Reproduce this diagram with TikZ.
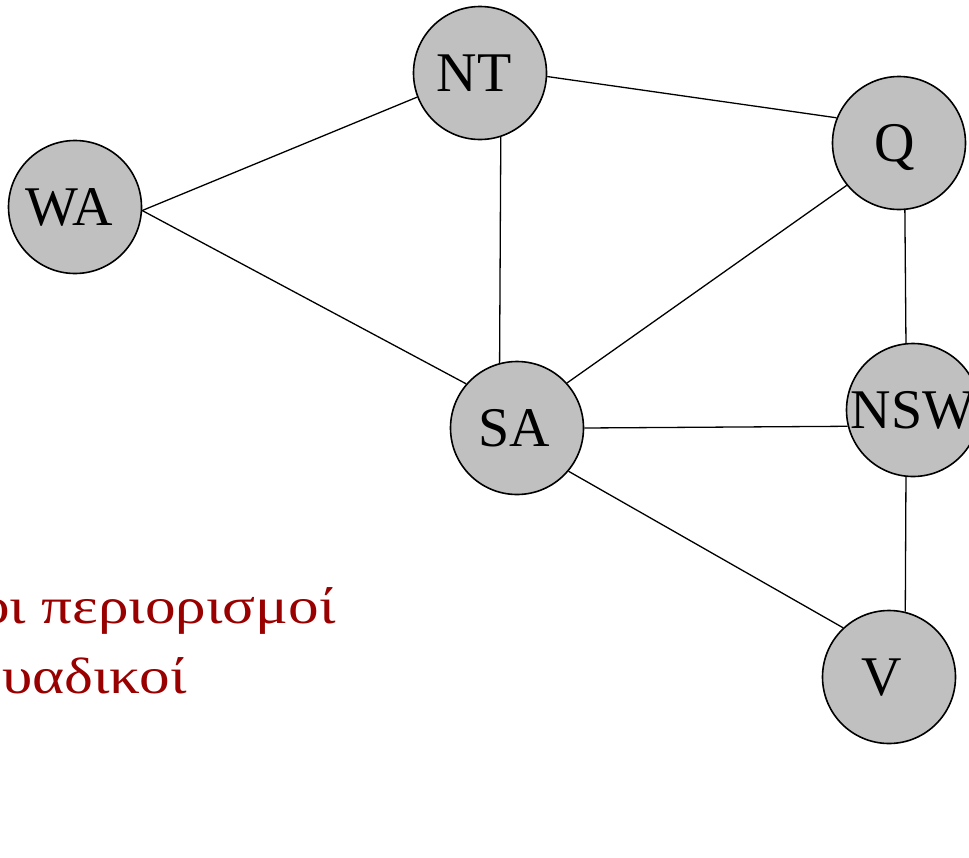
\documentclass[tikz,border=0pt]{standalone}
\usepackage{fontspec}
\setmainfont{Liberation Serif}
\newfontfamily\greekfont[FakeStretch=1.2]{Liberation Serif}
\usetikzlibrary{backgrounds}
\definecolor{nodegray}{RGB}{192,192,192}
\definecolor{darkred}{RGB}{153,0,0}
\begin{document}
\begin{tikzpicture}[x=1pt,y=-1pt,
  region/.style={circle,draw=black,line width=1.6pt,fill=nodegray,
    minimum size=133pt,inner sep=0pt,text depth=0pt,
    font=\fontsize{56}{60}\selectfont},
  edge/.style={draw=black,line width=1.3pt},
  note/.style={anchor=base west,inner sep=0pt,text=darkred,
    font=\greekfont\fontsize{51}{60}\selectfont}]
\useasboundingbox (0,0) rectangle (969,857);
\clip (0,0) rectangle (969,857);

% constraint graph nodes
\node[region] (WA)  at (75,207)  {WA\hspace*{12pt}};
\node[region] (NT)  at (480,73)  {NT\hspace*{12pt}};
\node[region] (Q)   at (899,143) {Q\hspace*{8pt}};
\node[region] (SA)  at (517,428) {SA\hspace*{6pt}};
\node[region] (NSW) at (913,410) {NSW};
\node[region] (V)   at (889,677) {V\hspace*{14pt}};

% edges, drawn behind the nodes
\begin{scope}[on background layer]
  \draw[edge] (WA.-3)  -- (NT.201);
  \draw[edge] (WA.-3)  -- (SA.139);
  \draw[edge] (NT.-3)  -- (Q.158);
  \draw[edge] (NT.-72) -- (SA.105);
  \draw[edge] (SA.42)  -- (Q.219);
  \draw[edge] (Q.-85)  -- (NSW.96);
  \draw[edge] (SA.0)   -- (NSW.194);
  \draw[edge] (SA.-40) -- (V.133);
  \draw[edge] (NSW.-96) -- (V.76);
\end{scope}

% caption
\node[note] (l1) at (-21,623) {οι περιορισμοί};
\node[note] (l2) at (2,693) {υαδικοί};
\end{tikzpicture}
\end{document}
